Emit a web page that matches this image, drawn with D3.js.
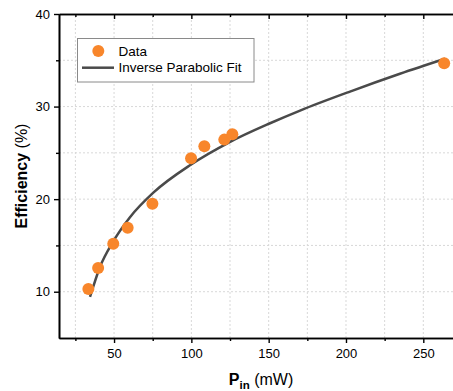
<!DOCTYPE html>
<html><head><meta charset="utf-8">
<script src="https://cdn.jsdelivr.net/npm/d3@7/dist/d3.min.js"></script>
<style>body{margin:0;background:#fff}svg{display:block;font-family:"Liberation Sans",Arial,sans-serif}</style>
</head><body>
<script>
// Data
const dataX = [33.4, 39.7, 49.5, 58.8, 74.8, 99.8, 108.4, 121.3, 126.5, 263.5];
const dataY = [10.3, 12.55, 15.18, 16.9, 19.49, 24.41, 25.71, 26.43, 27.0, 34.68];
// Fit curve
const fitX = [34.45, 40.9, 49.5, 60.3, 75.4, 99.6, 124.5, 150.9, 170.3, 202.6, 234.9, 264.0];
const fitY = [9.43, 12.67, 15.44, 18.05, 20.70, 23.72, 26.14, 28.20, 29.57, 31.62, 33.54, 35.16];
const xTicks = [50, 100, 150, 200, 250];
const xMinor = [25, 75, 125, 175, 225];
const yTicks = [10, 20, 30, 40];
const yMinor = [15, 25, 35];
const legendLabels = ["Data", "Inverse Parabolic Fit"];

(function () {
const W = 453, H = 391;
const svg = d3.select("body").append("svg").attr("width", W).attr("height", H);
const x = d3.scaleLinear().domain([14.4, 270.5]).range([59, 455]);
const y = d3.scaleLinear().domain([5, 40]).range([338, 14]);

// grid
const grid = svg.append("g").attr("stroke", "#d8d8d8").attr("stroke-width", 1).attr("stroke-dasharray", "2,2");
xTicks.concat(xMinor).forEach(v => grid.append("line").attr("x1", x(v)).attr("x2", x(v)).attr("y1", y(5)).attr("y2", y(40)));
yTicks.concat(yMinor).filter(v => v < 40).forEach(v => grid.append("line").attr("x1", x(14.4)).attr("x2", 455).attr("y1", y(v)).attr("y2", y(v)));

// axes
const fs = "13px";
const gBottom = svg.append("g").attr("transform", `translate(0,${y(5)})`)
  .call(d3.axisBottom(x).tickValues(xTicks).tickSize(5).tickSizeOuter(0).tickPadding(6));
const gBottomMinor = svg.append("g").attr("transform", `translate(0,${y(5)})`)
  .call(d3.axisBottom(x).tickValues(xMinor).tickSize(3).tickSizeOuter(0).tickFormat(""));
const gTop = svg.append("g").attr("transform", `translate(0,${y(40)})`)
  .call(d3.axisBottom(x).tickValues(xTicks).tickSize(5).tickSizeOuter(0).tickFormat(""));
const gTopMinor = svg.append("g").attr("transform", `translate(0,${y(40)})`)
  .call(d3.axisBottom(x).tickValues(xMinor).tickSize(3).tickSizeOuter(0).tickFormat(""));
const gLeft = svg.append("g").attr("transform", `translate(${x(14.4)},0)`)
  .call(d3.axisLeft(y).tickValues(yTicks).tickSize(5).tickSizeOuter(0).tickPadding(4));
const gLeftMinor = svg.append("g").attr("transform", `translate(${x(14.4)},0)`)
  .call(d3.axisLeft(y).tickValues(yMinor).tickSize(3).tickSizeOuter(0).tickFormat(""));
[gBottom, gBottomMinor, gTop, gTopMinor, gLeft, gLeftMinor].forEach(g => {
  g.select(".domain").attr("stroke", "#000").attr("stroke-width", 1.6);
  g.selectAll(".tick line").attr("stroke", "#000").attr("stroke-width", 1.4);
  g.selectAll("text").attr("font-size", fs).attr("fill", "#000").attr("font-family", "Liberation Sans, Arial, sans-serif");
});

// fit line
const pts = fitX.map((v, i) => [v, fitY[i]]);
svg.append("path").datum(pts)
  .attr("d", d3.line().x(d => x(d[0])).y(d => y(d[1])).curve(d3.curveMonotoneX))
  .attr("fill", "none").attr("stroke", "#4a4a4a").attr("stroke-width", 2.5);

// data dots
const dotColor = "#F8862B";
svg.append("g").selectAll("circle").data(dataX.map((v, i) => [v, dataY[i]])).join("circle")
  .attr("cx", d => x(d[0])).attr("cy", d => y(d[1])).attr("r", 6).attr("fill", dotColor);

// legend
const lg = svg.append("g");
lg.append("rect").attr("x", 77.5).attr("y", 38.5).attr("width", 176.5).attr("height", 43.5)
  .attr("fill", "#fff").attr("stroke", "#8a8a8a").attr("stroke-width", 1);
lg.append("circle").attr("cx", 98.3).attr("cy", 51).attr("r", 6).attr("fill", dotColor);
lg.append("line").attr("x1", 82).attr("x2", 114).attr("y1", 67.7).attr("y2", 67.7).attr("stroke", "#4a4a4a").attr("stroke-width", 2.5);
lg.append("text").attr("x", 118.5).attr("y", 55.5).attr("font-size", "13.5px").text(legendLabels[0]);
lg.append("text").attr("x", 118.5).attr("y", 72).attr("font-size", "13.5px").text(legendLabels[1]);

// axis titles
const xt = svg.append("text").attr("x", 261).attr("y", 384.5).attr("text-anchor", "middle").attr("font-size", "16px");
xt.append("tspan").attr("font-weight", "bold").text("P");
xt.append("tspan").attr("font-weight", "bold").attr("font-size", "11.5px").attr("dy", 4.5).text("in");
xt.append("tspan").attr("dy", -4.5).text(" (mW)");

const yt = svg.append("text").attr("transform", `translate(27,176) rotate(-90)`).attr("text-anchor", "middle").attr("font-size", "16px");
yt.append("tspan").attr("font-weight", "bold").text("Efficiency");
yt.append("tspan").text(" (%)");
})();
</script>
</body></html>
